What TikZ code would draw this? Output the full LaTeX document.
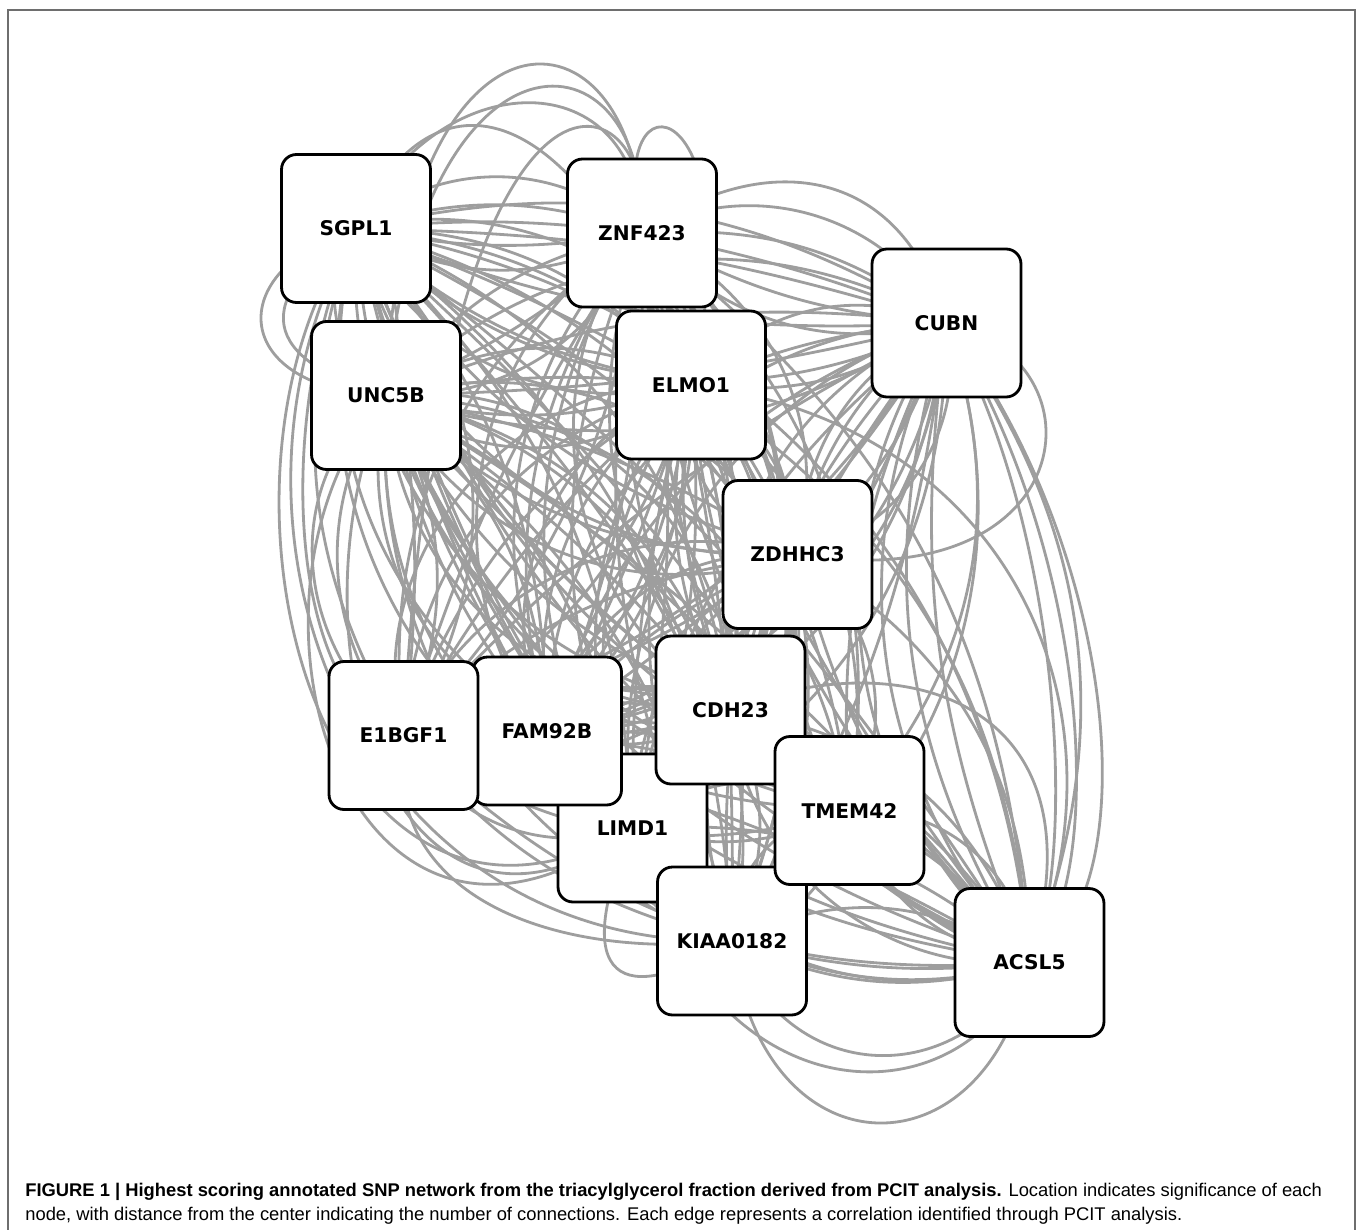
\documentclass[tikz,border=0pt]{standalone}
\usepackage{fontspec}
\setmainfont{Liberation Sans}
\newfontfamily\genefont{DejaVu Sans}
\usetikzlibrary{backgrounds}
\definecolor{edgegray}{RGB}{158,158,158}
\definecolor{framegray}{RGB}{110,110,110}
\tikzset{
  gene/.style={draw=black, line width=1.6pt, fill=white, rounded corners=8.5pt,
    minimum width=2.98cm, minimum height=2.96cm, inner sep=0pt,
    font=\genefont\bfseries\fontsize{11.5}{13}\selectfont},
  edge/.style={draw=edgegray, line width=1.6pt},
  frameline/.style={draw=framegray, line width=1.1pt},
  captext/.style={anchor=base west, inner sep=0pt, font=\fontsize{10.45}{12}\selectfont}
}
\begin{document}
\begin{tikzpicture}[x=0.02cm,y=-0.02cm]
\useasboundingbox (0,0) rectangle (1360,1230);
\draw[frameline] (8,1232) -- (8,10) -- (1355,10) -- (1355,1232);

% nodes (drawing order gives the overlaps)
\node[gene] (s) at (356,228.5) {SGPL1};
\node[gene] (z) at (642,233) {ZNF423};
\node[gene] (c) at (946.5,323) {CUBN};
\node[gene] (u) at (386,395.5) {UNC5B};
\node[gene] (e) at (691,385) {ELMO1};
\node[gene] (h) at (797.5,554.5) {ZDHHC3};
\node[gene] (l) at (632.5,828) {LIMD1};
\node[gene] (d) at (730.5,710) {CDH23};
\node[gene] (k) at (732,941) {KIAA0182};
\node[gene] (t) at (849.5,810.5) {TMEM42};
\node[gene] (f) at (547,731) {FAM92B};
\node[gene] (g) at (403.5,735.5) {E1BGF1};
\node[gene] (a) at (1029.5,962.5) {ACSL5};

\begin{scope}[on background layer]
\foreach \p/\q/\bl in {
 s/z/{6,-10,18,-28,40}, s/c/{8,-12,22,-35}, s/u/{30,-45}, s/e/{5,-15,25,-38},
 s/h/{10,-20,32,-40,50}, s/g/{12,-25,38}, s/f/{-8,20,-35}, s/d/{6,-18,30,-42},
 s/l/{-10,22,-40}, s/t/{8,-20,35,-38}, s/k/{-12,25}, s/a/{10,-22,38},
 z/c/{5,-12,20,-30,45}, z/u/{8,-20,35}, z/e/{30,-40}, z/h/{10,-25,40},
 z/g/{-8,18,-32}, z/f/{12,-24,36,-50}, z/d/{-6,16,-30,40,-50}, z/l/{10,-22,34,-45,55},
 z/t/{-14,28}, z/k/{8,-18,30,-42}, z/a/{-10,24,-40},
 c/u/{6,-14,24,-36}, c/e/{20,-35}, c/h/{15,-30,45}, c/g/{-10,20,-34,45},
 c/f/{12,-26,40,-45}, c/d/{-8,22,-38}, c/l/{10,-20,32,-40}, c/t/{-15,30,-45},
 c/k/{12,-25,38}, c/a/{-15,28,-42,-33,-24},
 u/e/{8,-16,28,-40}, u/h/{10,-22,35,-40}, u/g/{25,-35}, u/f/{-12,24,-38},
 u/d/{8,-18,30,-45,50}, u/l/{-10,22,-34}, u/t/{12,-26,40,-5}, u/k/{-8,20,-36,45}, u/a/{10,-24},
 e/h/{30,-45}, e/g/{-10,22,-36,45,-55}, e/f/{15,-30,-48,5}, e/d/{-20,35,8}, e/l/{12,-25,40,-8,55},
 e/t/{-15,30}, e/k/{10,-22,36,-45}, e/a/{-12,26,-40},
 h/g/{8,-18,30,-40,50}, h/f/{-12,25,40,-40}, h/d/{35,-45}, h/l/{15,-30}, h/t/{-25,40},
 h/k/{12,-28}, h/a/{-15,30,-45},
 g/f/{40,-50}, g/d/{-10,22,-34}, g/l/{25,-40}, g/t/{12,-26,38}, g/k/{-18,32},
 g/a/{10,-24,40},
 f/d/{-25,38}, f/l/{35,-45}, f/t/{-12,26}, f/k/{20,-35}, f/a/{-14,28,-42},
 d/l/{30,-45}, d/t/{-35,45}, d/k/{25,-40}, d/a/{-18,32,-45},
 l/t/{-20,35}, l/k/{40,-50}, l/a/{-10,22,-36},
 t/k/{30,-45}, t/a/{-30,45,15}, k/a/{-20,30,-10}}{
  \foreach \b in \bl {\draw[edge] (\p.center) to[bend left=\b] (\q.center);}
}
% loops over the top
\draw[edge] (u.center) .. controls (400,-20) and (640,-10) .. (z.center);
\draw[edge] (u.center) .. controls (420,10) and (650,20) .. (z.center);
\draw[edge] (s.center) .. controls (440,60) and (640,60) .. (z.center);
\draw[edge] (g.center) .. controls (440,0) and (660,70) .. (z.center);
\draw[edge] (e.center) .. controls (560,60) and (420,80) .. (s.center);
\draw[edge] (e.center) .. controls (760,90) and (600,60) .. (z.center);
% loops on the left
\draw[edge] (s.center) .. controls (220,270) and (230,390) .. (u.center);
\draw[edge] (s.center) .. controls (250,300) and (260,360) .. (u.center);
\draw[edge] (u.center) .. controls (280,480) and (290,640) .. (g.center);
\draw[edge] (s.center) .. controls (270,420) and (290,700) .. (g.center);
\draw[edge] (s.center) .. controls (180,480) and (320,1010) .. (l.center);
\draw[edge] (u.center) .. controls (210,600) and (350,1040) .. (l.center);
\draw[edge] (s.center) .. controls (190,520) and (350,950) .. (k.center);
\draw[edge] (u.center) .. controls (280,650) and (400,1000) .. (l.center);
\draw[edge] (g.center) .. controls (380,900) and (560,960) .. (k.center);
% loops at the bottom
\draw[edge] (k.center) .. controls (760,1180) and (990,1180) .. (a.center);
\draw[edge] (k.center) .. controls (790,1090) and (960,1090) .. (a.center);
\draw[edge] (l.center) .. controls (700,1120) and (960,1130) .. (a.center);
\draw[edge] (l.center) .. controls (560,1000) and (640,1000) .. (k.center);
% loops on the right
\draw[edge] (c.center) .. controls (1120,550) and (1150,900) .. (a.center);
\draw[edge] (c.center) .. controls (1090,550) and (1110,880) .. (a.center);
\draw[edge] (c.center) .. controls (1060,520) and (1080,860) .. (a.center);
\draw[edge] (c.center) .. controls (1110,360) and (1080,600) .. (h.center);
\draw[edge] (d.center) .. controls (900,640) and (1110,700) .. (a.center);
\draw[edge] (e.center) .. controls (1000,420) and (1140,700) .. (a.center);
\draw[edge] (z.center) .. controls (760,150) and (900,160) .. (c.center);
\end{scope}

% caption
\node[captext] (cap1) at (25,1196) {\textbf{FIGURE 1 | Highest scoring annotated SNP network from the triacylglycerol fraction derived from PCIT analysis.} Location indicates significance of each};
\node[captext] (cap2) at (25,1220) {node, with distance from the center indicating the number of connections. Each edge represents a correlation identified through PCIT analysis.};
\end{tikzpicture}
\end{document}
